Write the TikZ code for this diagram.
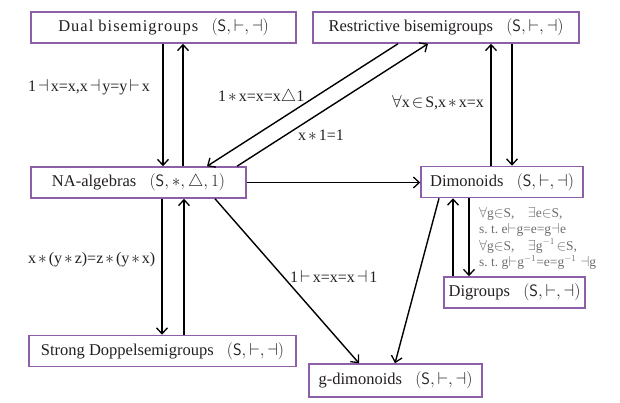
\documentclass[tikz,border=0pt]{standalone}
\usepackage{fontspec}
\setmainfont{Liberation Serif}
\usetikzlibrary{arrows.meta}
\definecolor{boxpurple}{HTML}{8C5FA8}
\definecolor{txtdark}{HTML}{231F20}
\definecolor{condgray}{HTML}{6E6E6E}
\newcommand{\tup}{$(\mathsf{S},{\vdash},{\dashv})$}
\newcommand{\sy}[1]{\kern2pt$#1$\kern2pt}
\begin{document}
\begin{tikzpicture}[x=1pt,y=-1pt,
  catbox/.style={draw=boxpurple,line width=1.5pt,minimum height=31pt,inner sep=0pt,
    font=\fontsize{16.5}{18}\selectfont,text=txtdark},
  arr/.style={-{Straight Barb[length=6pt,width=11pt,line width=1.3pt]},line width=1.4pt,black},
  lab/.style={font=\fontsize{16}{18}\selectfont,text=txtdark,inner sep=0pt},
  cond/.style={font=\fontsize{13.5}{16.5}\selectfont,text=condgray,align=left,inner sep=0pt}]
\useasboundingbox (0,0) rectangle (620,402);
\node[catbox,minimum width=265pt] (dual) at (163.5,27.5) {{\addfontfeature{LetterSpace=6}Dual bisemigroups}\;\; \tup};
\node[catbox,minimum width=266pt] (res) at (446,27.5) {Restrictive bisemigroups\;\; \tup};
\node[catbox,minimum width=215pt] (na) at (138.5,182.5) {NA-algebras\;\; $(\mathsf{S},{*},{\triangle},1)$\hspace{16pt}};
\node[catbox,minimum width=162pt] (dim) at (502,182) {Dimonoids\;\; \tup};
\node[catbox,minimum width=141pt] (dig) at (514.5,292.5) {Digroups\;\; \tup};
\node[catbox,minimum width=267pt] (sd) at (162.5,351) {Strong Doppelsemigroups\;\; \tup};
\node[catbox,minimum width=173pt,minimum height=33pt] (gd) at (395.5,380.5) {g-dimonoids\;\; \tup};
% dual <-> na
\draw[arr] ([xshift=-0.5pt]dual.south) -- ([xshift=-0.5pt]dual.south |- na.north);
\draw[arr] ([xshift=19.5pt]dual.south |- na.north) -- ([xshift=19.5pt]dual.south);
% res <-> na
\draw[arr] ([xshift=-48pt]res.south) -- ([xshift=68.5pt]na.north);
\draw[arr] ([xshift=98.5pt]na.north) -- ([xshift=-18pt]res.south);
% res <-> dim
\draw[arr] ([xshift=-11pt]dim.north) -- ([xshift=-11pt]dim.north |- res.south);
\draw[arr] ([xshift=10pt]dim.north |- res.south) -- ([xshift=10pt]dim.north);
% na -> dim
\draw[arr] (na.east) -- (na.east -| dim.west);
% dim <-> dig
\draw[arr] ([xshift=-33pt]dim.south) -- ([xshift=-33pt]dim.south |- dig.north);
\draw[arr] ([xshift=-61.5pt]dig.north) -- ([xshift=-61.5pt]dig.north |- dim.south);
% na <-> sd
\draw[arr] ([xshift=23.5pt]na.south) -- ([xshift=23.5pt]na.south |- sd.north);
\draw[arr] ([xshift=45.5pt]na.south |- sd.north) -- ([xshift=45.5pt]na.south);
% to g-dimonoids
\draw[arr] ([xshift=76.5pt]na.south) -- ([xshift=-36.5pt]gd.north);
\draw[arr] ([xshift=-63pt]dim.south) -- ([xshift=-0.5pt]gd.north);
% labels
\node[lab,anchor=west] (l1) at (28,87) {1\sy{\dashv}x=x,x\sy{\dashv}y=y\sy{\vdash}x};
\node[lab,anchor=west] (l2) at (218,97) {1\sy{*}x=x=x$\triangle$1};
\node[lab,anchor=west] (l3) at (298,135) {x\sy{*}1=1};
\node[lab,anchor=west] (l4) at (392,103) {$\forall$x\sy{\in}S,x\sy{*}x=x};
\node[lab,anchor=west] (l5) at (28,260) {x\sy{*}(y\sy{*}z)=z\sy{*}(y\sy{*}x)};
\node[lab,anchor=west] (l6) at (290,276) {1\sy{\vdash}x=x=x\sy{\dashv}1};
\node[cond,anchor=north west] (c1) at (479,207) {$\forall$g$\in$S,\quad $\exists$e$\in$S,\\
s.\ t.\ e$\vdash$g=e=g$\dashv$e\\
$\forall$g$\in$S,\quad $\exists$g$^{-1}\!\in$S,\\
s.\ t.\ g$\vdash$g$^{-1}$=e=g$^{-1}\dashv$g};
\end{tikzpicture}
\end{document}
